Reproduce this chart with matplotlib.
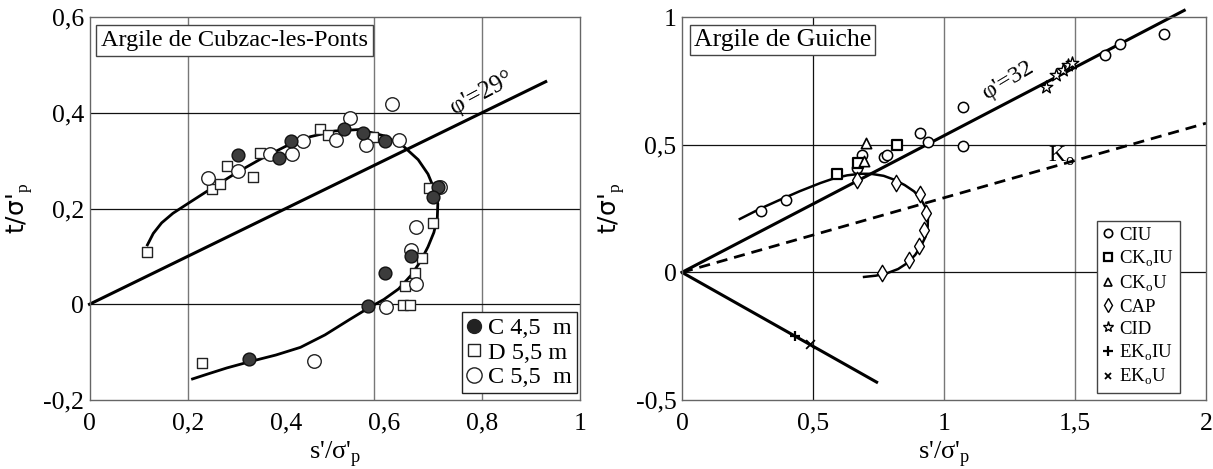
import matplotlib
matplotlib.use("Agg")
import matplotlib.pyplot as plt
from matplotlib.lines import Line2D

plt.rcParams['font.family'] = ['Liberation Serif', 'DejaVu Serif']
plt.rcParams['mathtext.fontset'] = 'custom'
plt.rcParams['mathtext.rm'] = 'Liberation Serif'

# --- Argile de Cubzac-les-Ponts ---
c45_s = [0.302, 0.387, 0.411, 0.519, 0.557, 0.602, 0.711, 0.700, 0.655, 0.602, 0.568, 0.326]
c45_t = [0.312, 0.306, 0.341, 0.367, 0.358, 0.341, 0.245, 0.225, 0.101, 0.066, -0.004, -0.115]
d55_s = [0.118, 0.249, 0.266, 0.281, 0.334, 0.348, 0.470, 0.487, 0.578, 0.693, 0.700,
         0.677, 0.664, 0.643, 0.640, 0.653, 0.229]
d55_t = [0.110, 0.241, 0.251, 0.289, 0.265, 0.315, 0.367, 0.353, 0.349, 0.243, 0.169,
         0.096, 0.066, 0.038, -0.002, -0.002, -0.123]
c55_s = [0.242, 0.302, 0.368, 0.413, 0.435, 0.503, 0.531, 0.564, 0.616, 0.630, 0.715,
         0.666, 0.655, 0.666, 0.604, 0.458]
c55_t = [0.263, 0.279, 0.313, 0.313, 0.341, 0.343, 0.390, 0.333, 0.418, 0.343, 0.244,
         0.161, 0.113, 0.042, -0.005, -0.119]
# fitted stress path, traced by hand
cub_path_s = [0.118, 0.130, 0.147, 0.170, 0.200, 0.250, 0.300, 0.350, 0.400, 0.450, 0.500,
              0.550, 0.600, 0.640, 0.670, 0.690, 0.703, 0.710, 0.709, 0.702, 0.690, 0.675,
              0.655, 0.630, 0.600, 0.570, 0.530, 0.480, 0.430, 0.380, 0.330, 0.280, 0.240,
              0.210]
cub_path_t = [0.124, 0.148, 0.170, 0.190, 0.210, 0.243, 0.275, 0.304, 0.330, 0.350, 0.362,
              0.365, 0.352, 0.330, 0.302, 0.272, 0.240, 0.210, 0.180, 0.150, 0.120, 0.090,
              0.060, 0.032, 0.010, -0.007, -0.032, -0.064, -0.090, -0.106, -0.119, -0.133,
              -0.146, -0.156]
cub_env_s = [0.0, 0.93]
cub_env_t = [0.0, 0.465]

# --- Argile de Guiche ---
ciu_s = [0.300, 0.399, 0.670, 0.689, 0.772, 0.784, 0.909, 0.938, 1.072, 1.072, 1.615, 1.671, 1.840]
ciu_t = [0.239, 0.282, 0.409, 0.461, 0.452, 0.461, 0.545, 0.509, 0.649, 0.494, 0.851, 0.896, 0.935]
ckoiu_s = [0.593, 0.672, 0.822]
ckoiu_t = [0.385, 0.428, 0.500]
ckou_s = [0.695, 0.702]
ckou_t = [0.435, 0.506]
cap_s = [0.667, 0.816, 0.909, 0.931, 0.925, 0.906, 0.867, 0.765]
cap_t = [0.363, 0.350, 0.308, 0.232, 0.167, 0.102, 0.047, -0.003]
cid_s = [1.390, 1.426, 1.454, 1.475, 1.489]
cid_t = [0.727, 0.773, 0.792, 0.812, 0.818]
ekoiu_s = [0.431]
ekoiu_t = [-0.250]
ekou_s = [0.489]
ekou_t = [-0.280]
gui_path_s = [0.221, 0.300, 0.376, 0.450, 0.529, 0.580, 0.631, 0.680, 0.721, 0.770, 0.810,
              0.850, 0.886, 0.912, 0.931, 0.939, 0.938, 0.930, 0.912, 0.890, 0.861, 0.825,
              0.784, 0.740, 0.695]
gui_path_t = [0.209, 0.250, 0.285, 0.318, 0.350, 0.368, 0.380, 0.386, 0.386, 0.378, 0.363,
              0.342, 0.317, 0.287, 0.252, 0.215, 0.180, 0.140, 0.102, 0.068, 0.037, 0.013,
              -0.003, -0.013, -0.018]
gui_env_s = [0.0, 1.917]
gui_env_t = [0.0, 1.026]
gui_ko_s = [0.0, 2.0]
gui_ko_t = [0.0, 0.584]
gui_ext_s = [0.0, 0.743]
gui_ext_t = [0.0, -0.430]

fig = plt.figure(figsize=(12.13, 4.69), dpi=100)
ax1 = fig.add_axes([0.0738, 0.1471, 0.4044, 0.8166])
ax2 = fig.add_axes([0.5622, 0.1471, 0.4320, 0.8166])

FS = 18.5
grid_dark = '#111111'
grid_gray = '#777777'

for ax in (ax1, ax2):
    for sp in ax.spines.values():
        sp.set_color('#666666')
        sp.set_linewidth(1.0)
    ax.tick_params(length=0, labelsize=FS)
    ax.tick_params(axis='x', pad=9)
    ax.tick_params(axis='y', pad=4)

# left panel
ax1.set_xlim(0, 1)
ax1.set_ylim(-0.2, 0.6)
ax1.set_xticks([0, 0.2, 0.4, 0.6, 0.8, 1])
ax1.set_xticklabels(['0', '0,2', '0,4', '0,6', '0,8', '1'])
ax1.set_yticks([-0.2, 0, 0.2, 0.4, 0.6])
ax1.set_yticklabels(['-0,2', '0', '0,2', '0,4', '0,6'])
for xv in (0.2, 0.58, 0.8):
    ax1.axvline(xv, color=grid_gray, lw=1.0, zorder=0)
for yv in (0.0, 0.2, 0.4):
    ax1.axhline(yv, color=grid_dark, lw=0.9, zorder=0)

ax1.plot(cub_env_s, cub_env_t, color='black', lw=2.2, clip_on=False, zorder=2)
ax1.plot(cub_path_s, cub_path_t, color='black', lw=2.0, zorder=2)
ax1.scatter(d55_s, d55_t, marker='s', s=42, facecolor='white', edgecolor='#222222',
            linewidths=1.0, zorder=3)
ax1.scatter(c55_s, c55_t, marker='o', s=95, facecolor='white', edgecolor='#222222',
            linewidths=1.0, zorder=3)
ax1.scatter(c45_s, c45_t, marker='o', s=85, facecolor='#3c3c3c', edgecolor='#111111',
            linewidths=1.0, zorder=4)
ax1.text(0.80, 0.44, "φ'=29°", rotation=28, fontsize=18, ha='center', va='center')
ax1.text(0.024, 0.966, "Argile de Cubzac-les-Ponts", transform=ax1.transAxes, fontsize=17.5,
         va='top', ha='left', zorder=5,
         bbox=dict(boxstyle='square,pad=0.2', fc='white', ec='#444444', lw=1.0))

h1 = [Line2D([], [], ls='none', marker='o', ms=10, mfc='#222222', mec='#222222'),
      Line2D([], [], ls='none', marker='s', ms=9, mfc='white', mec='#222222'),
      Line2D([], [], ls='none', marker='o', ms=11, mfc='white', mec='#222222')]
leg1 = ax1.legend(h1, ['C 4,5  m', 'D 5,5 m', 'C 5,5  m'], loc='lower right',
                  bbox_to_anchor=(0.994, 0.018), fontsize=17.5, handlelength=0.6,
                  handletextpad=0.3, borderpad=0.2, labelspacing=0.1, fancybox=False,
                  framealpha=1, edgecolor='#222222', borderaxespad=0)
leg1.get_frame().set_linewidth(1.0)

ax1.set_xlabel("s'/σ'$_\\mathrm{p}$", fontsize=19, labelpad=3)
ax1.set_ylabel("t/σ'$_\\mathrm{p}$", fontsize=18, labelpad=6, family=['DejaVu Sans'])

# right panel
ax2.set_xlim(0, 2)
ax2.set_ylim(-0.5, 1)
ax2.set_xticks([0, 0.5, 1, 1.5, 2])
ax2.set_xticklabels(['0', '0,5', '1', '1,5', '2'])
ax2.set_yticks([-0.5, 0, 0.5, 1])
ax2.set_yticklabels(['-0,5', '0', '0,5', '1'])
ax2.axvline(0.5, color=grid_dark, lw=0.9, zorder=0)
for xv in (1.0, 1.5):
    ax2.axvline(xv, color=grid_gray, lw=1.0, zorder=0)
for yv in (0.0, 0.5):
    ax2.axhline(yv, color=grid_dark, lw=0.9, zorder=0)

ax2.plot(gui_env_s, gui_env_t, color='black', lw=2.2, clip_on=False, zorder=2)
ax2.plot(gui_ko_s, gui_ko_t, color='black', lw=2.0, ls=(0, (4, 2.5)), zorder=2)
ax2.plot(gui_ext_s, gui_ext_t, color='black', lw=2.2, zorder=2)
ax2.plot(gui_path_s, gui_path_t, color='black', lw=1.8, zorder=2)

mk = dict(facecolor='white', edgecolor='black', zorder=3)
ax2.scatter(ciu_s, ciu_t, marker='o', s=55, linewidths=1.1, **mk)
ax2.scatter(ckoiu_s, ckoiu_t, marker='s', s=50, linewidths=1.6, **mk)
ax2.scatter(ckou_s, ckou_t, marker='^', s=55, linewidths=1.2, **mk)
ax2.scatter(cap_s, cap_t, marker='d', s=70, linewidths=1.0, **mk)
ax2.scatter(cid_s, cid_t, marker='*', s=90, linewidths=1.0, **mk)
ax2.scatter(ekoiu_s, ekoiu_t, marker='+', s=60, color='black', linewidths=1.6, zorder=3)
ax2.scatter(ekou_s, ekou_t, marker='x', s=40, color='black', linewidths=1.3, zorder=3)

ax2.text(1.245, 0.75, "φ'=32", rotation=31, fontsize=17.5, ha='center', va='center')
ax2.text(1.45, 0.455, "K$_\\mathrm{o}$", fontsize=17, ha='center', va='center')
ax2.text(0.023, 0.969, "Argile de Guiche", transform=ax2.transAxes, fontsize=18.5,
         va='top', ha='left', zorder=5,
         bbox=dict(boxstyle='square,pad=0.15', fc='white', ec='#444444', lw=1.0))

h2 = [Line2D([], [], ls='none', marker='o', ms=6, mfc='white', mec='black', mew=1.2),
      Line2D([], [], ls='none', marker='s', ms=6, mfc='white', mec='black', mew=1.6),
      Line2D([], [], ls='none', marker='^', ms=6, mfc='white', mec='black', mew=1.2),
      Line2D([], [], ls='none', marker='d', ms=7, mfc='white', mec='black', mew=1.0),
      Line2D([], [], ls='none', marker='*', ms=8, mfc='white', mec='black', mew=1.0),
      Line2D([], [], ls='none', marker='+', ms=7, color='black', mew=1.6),
      Line2D([], [], ls='none', marker='x', ms=5, color='black', mew=1.3)]
lab2 = ['CIU', 'CK$_\\mathrm{o}$IU', 'CK$_\\mathrm{o}$U', 'CAP', 'CID',
        'EK$_\\mathrm{o}$IU', 'EK$_\\mathrm{o}$U']
leg2 = ax2.legend(h2, lab2, loc='lower right', bbox_to_anchor=(0.95, 0.018),
                  fontsize=13.5, handlelength=0.6, handletextpad=0.3, borderpad=0.3,
                  labelspacing=0.25, fancybox=False, framealpha=1, edgecolor='#444444',
                  borderaxespad=0)
leg2.get_frame().set_linewidth(1.0)

ax2.set_xlabel("s'/σ'$_\\mathrm{p}$", fontsize=19, labelpad=3)
ax2.set_ylabel("t/σ'$_\\mathrm{p}$", fontsize=18, labelpad=6, family=['DejaVu Sans'])

fig.savefig('out.png', dpi=100)
